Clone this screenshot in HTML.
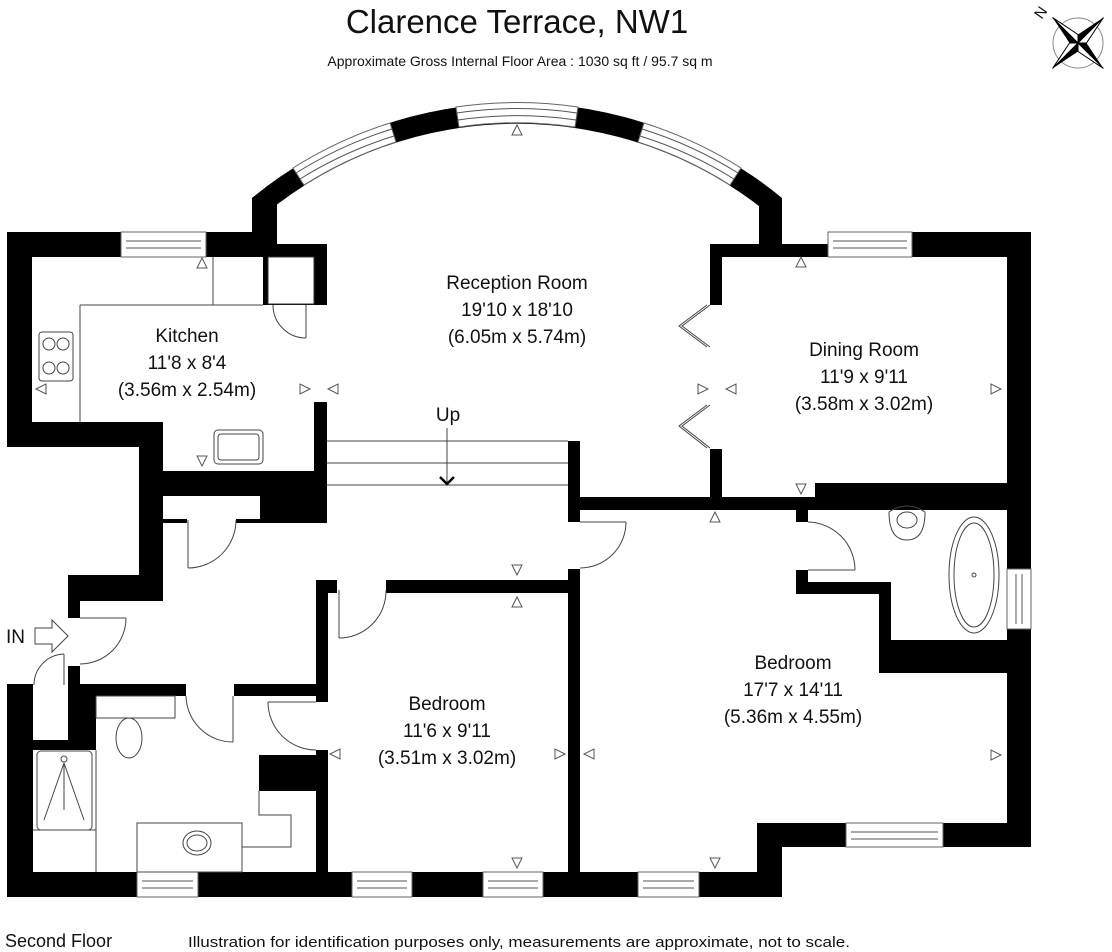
<!DOCTYPE html>
<html><head><meta charset="utf-8"><style>
html,body{margin:0;padding:0;background:#fff;}
svg{display:block;}
text{font-family:"Liberation Sans",sans-serif;fill:#111;}
</style></head><body>
<svg width="1112" height="952" viewBox="0 0 1112 952" xmlns="http://www.w3.org/2000/svg">
<defs>
<g id="wh"></g>
</defs>
<!-- title -->
<text x="517" y="33" font-size="33" text-anchor="middle">Clarence Terrace, NW1</text>
<text x="520" y="66" font-size="14" text-anchor="middle">Approximate Gross Internal Floor Area : 1030 sq ft / 95.7 sq m</text>

<!-- compass -->
<g transform="translate(1078,43)">
<circle r="25" fill="none" stroke="#888" stroke-width="1"/>
<g transform="rotate(45)">
<polygon points="0,-36 6,-6 36,0 6,6 0,36 -6,6 -36,0 -6,-6" fill="#000"/>
<polygon points="0,-36 6,-6 0,0" fill="#fff" stroke="#000" stroke-width="1"/>
<polygon points="36,0 6,6 0,0" fill="#fff" stroke="#000" stroke-width="1"/>
<polygon points="0,36 -6,6 0,0" fill="#fff" stroke="#000" stroke-width="1"/>
<polygon points="-36,0 -6,-6 0,0" fill="#fff" stroke="#000" stroke-width="1"/>
</g>
</g>
<text x="1040" y="18" font-size="15" transform="rotate(-55 1040 12)" text-anchor="middle">N</text>

<!-- arc wall -->
<path d="M 252,198 A 417 417 0 0 1 782,198 L 769,214 A 397 397 0 0 0 265,214 Z" fill="#000"/>
<g fill="none" stroke="#777" stroke-width="1">
</g>
<!-- arc windows: white sectors -->
<g fill="#fff" stroke="#666" stroke-width="1">
<path d="M 293,168 A 417 417 0 0 1 390,123 L 396,142 A 397 397 0 0 0 304,185 Z"/>
<path d="M 456,107 A 417 417 0 0 1 578,107 L 575,127 A 397 397 0 0 0 459,127 Z"/>
<path d="M 644,123 A 417 417 0 0 1 741,168 L 730,185 A 397 397 0 0 0 638,142 Z"/>
</g>
<g fill="none" stroke="#555" stroke-width="1">
<path d="M 296,173 A 410 410 0 0 1 392,129"/>
<path d="M 300,179 A 404 404 0 0 1 394,136"/>
<path d="M 457,113 A 410 410 0 0 1 577,113"/>
<path d="M 458,120 A 404 404 0 0 1 576,120"/>
<path d="M 642,129 A 410 410 0 0 1 738,173"/>
<path d="M 640,136 A 404 404 0 0 1 734,179"/>
</g>

<!-- walls -->
<g fill="#000">
<!-- kitchen -->
<rect x="7" y="232" width="245" height="25"/>
<rect x="252" y="198" width="25" height="59"/>
<rect x="7" y="232" width="25" height="215"/>
<rect x="7" y="422" width="156" height="25"/>
<rect x="139" y="422" width="24" height="179"/>
<rect x="263" y="244" width="64" height="61"/>
<rect x="314" y="402" width="13" height="121"/>
<rect x="163" y="471" width="164" height="25"/>
<rect x="260" y="496" width="67" height="27"/>
<rect x="163" y="519" width="24" height="4"/>
<rect x="236" y="519" width="30" height="4"/>
<!-- entrance area -->
<rect x="68" y="575" width="95" height="26"/>
<rect x="68" y="575" width="12" height="43"/>
<rect x="68" y="666" width="12" height="22"/>
<!-- bottom left bath -->
<rect x="7" y="684" width="26" height="213"/>
<rect x="7" y="684" width="26" height="12"/>
<rect x="68" y="684" width="118" height="12"/>
<rect x="234" y="684" width="93" height="12"/>
<rect x="68" y="684" width="28" height="66"/>
<rect x="33" y="740" width="63" height="10"/>
<rect x="7" y="872" width="775" height="25"/>
<rect x="259" y="755" width="69" height="36"/>
<!-- bedroom 1 -->
<rect x="316" y="580" width="21" height="13"/>
<rect x="316" y="580" width="12" height="122"/>
<rect x="316" y="750" width="12" height="122"/>
<rect x="386" y="580" width="182" height="13"/>
<rect x="568" y="569" width="12" height="328"/>
<!-- stair post / hall -->
<rect x="568" y="441" width="12" height="81"/>
<rect x="580" y="497" width="451" height="13"/>
<!-- reception right / dining -->
<rect x="759" y="198" width="23" height="59"/>
<rect x="710" y="244" width="118" height="13"/>
<rect x="912" y="232" width="119" height="25"/>
<rect x="710" y="244" width="12" height="61"/>
<rect x="710" y="449" width="12" height="61"/>
<rect x="815" y="483" width="216" height="27"/>
<rect x="1007" y="232" width="24" height="615"/>
<!-- bathroom 2 -->
<rect x="796" y="510" width="12" height="12"/>
<rect x="796" y="570" width="12" height="24"/>
<rect x="796" y="582" width="95" height="12"/>
<rect x="879" y="582" width="12" height="91"/>
<rect x="879" y="640" width="152" height="33"/>
<!-- bedroom 2 bottom -->
<rect x="757" y="823" width="274" height="24"/>
<rect x="757" y="823" width="25" height="74"/>
</g>
<!-- cupboard inner -->
<rect x="268" y="257" width="46" height="47" fill="#fff" stroke="#333" stroke-width="1"/>
<rect x="33" y="696" width="35" height="44" fill="#fff"/>

<!-- straight windows -->
<g fill="#fff" stroke="#666" stroke-width="1">
<rect x="121" y="232" width="85" height="25"/>
<rect x="828" y="232" width="84" height="25"/>
<rect x="137" y="872" width="61" height="25"/>
<rect x="352" y="872" width="60" height="25"/>
<rect x="483" y="872" width="60" height="25"/>
<rect x="638" y="872" width="61" height="25"/>
<rect x="846" y="823" width="97" height="24"/>
<rect x="1007" y="569" width="24" height="60"/>
</g>
<g stroke="#555" stroke-width="1" fill="none">
<path d="M126 241H201M126 248H201"/>
<path d="M833 241H907M833 248H907"/>
<path d="M142 881H193M142 888H193"/>
<path d="M357 881H407M357 888H407"/>
<path d="M488 881H538M488 888H538"/>
<path d="M643 881H694M643 888H694"/>
<path d="M851 832H938M851 839H938"/>
<path d="M1016 574V624M1022 574V624"/>
</g>

<!-- fixtures/lines -->
<g fill="none" stroke="#444" stroke-width="1">
<path d="M80 305V422M80 305H263M213 257V305"/>
<rect x="39" y="332" width="34" height="49" rx="3"/>
<circle cx="49" cy="344" r="6"/><circle cx="63" cy="344" r="6"/>
<circle cx="49" cy="368" r="6"/><circle cx="63" cy="368" r="6"/>
<rect x="214" y="430" width="49" height="34" rx="4"/>
<rect x="218" y="434" width="41" height="26" rx="3"/>
<path d="M327 441H568M327 463H568M327 485H568"/>
<!-- doors -->
<path d="M306 305V338M273 305A33 33 0 0 0 306 338"/>
<path d="M188 520V568M188 568A48 48 0 0 0 236 520"/>
<path d="M580 522H626M626 522A46 46 0 0 1 580 568"/>
<path d="M80 618H126M126 618A46 46 0 0 1 80 664"/>
<path d="M64 654V685M64 654A31 31 0 0 0 34 685"/>
<path d="M233 696V742M186 696A47 47 0 0 0 233 742"/>
<path d="M268 702H316M268 702A48 48 0 0 0 316 750"/>
<path d="M339 590V638M386 590A47 47 0 0 1 339 638"/>
<path d="M808 570H855M808 522A48 48 0 0 1 855 570"/>
<path d="M710 305L682 326L710 347M707 305L679 326L707 347"/>
<path d="M710 405L682 426L710 448M707 405L679 426L707 448"/>
<!-- bath left -->
<rect x="37" y="751" width="55" height="79" rx="4"/>
<path d="M64 763L44 820M64 763L84 820M64 763V810"/>
<circle cx="64" cy="759" r="3"/>
<path d="M96 750V872M33 830H96"/>
<rect x="96" y="696" width="79" height="22"/>
<ellipse cx="129" cy="738" rx="13" ry="20"/>
<path d="M259 791V815H291V847H242"/>
<rect x="137" y="823" width="105" height="49"/>
<ellipse cx="197" cy="843" rx="14" ry="12"/>
<ellipse cx="197" cy="843" rx="10" ry="8"/>
<!-- bath right -->
<ellipse cx="974" cy="575" rx="25" ry="58"/>
<ellipse cx="974" cy="575" rx="20" ry="52"/>
<circle cx="974" cy="575" r="2"/>
<path d="M889 512Q907 500 925 512Q925 540 907 540Q889 540 889 512Z"/>
<ellipse cx="907" cy="520" rx="10" ry="8"/>
<!-- Up arrow -->
<path d="M447 428V484"/>
</g>
<path d="M440 477L447 484L454 477" fill="none" stroke="#000" stroke-width="2.5"/>

<!-- markers -->
<g fill="#fff" stroke="#555" stroke-width="1">
<polygon points="197,268 207,268 202,258"/>
<polygon points="36,389 46,384 46,394"/>
<polygon points="197,456 207,456 202,466"/>
<polygon points="300,384 300,394 310,389"/>
<polygon points="338,384 338,394 328,389"/>
<polygon points="512,135 522,135 517,125"/>
<polygon points="698,384 698,394 708,389"/>
<polygon points="736,384 736,394 726,389"/>
<polygon points="796,267 806,267 801,257"/>
<polygon points="991,384 991,394 1001,389"/>
<polygon points="796,484 806,484 801,494"/>
<polygon points="710,522 720,522 715,512"/>
<polygon points="512,565 522,565 517,575"/>
<polygon points="512,607 522,607 517,597"/>
<polygon points="340,749 340,759 330,754"/>
<polygon points="555,749 555,759 565,754"/>
<polygon points="594,749 594,759 584,754"/>
<polygon points="512,858 522,858 517,868"/>
<polygon points="991,750 991,760 1001,755"/>
<polygon points="710,858 720,858 715,868"/>
</g>

<!-- IN arrow -->
<text x="6" y="643" font-size="19">IN</text>
<polygon points="35,628 52,628 52,620 68,636 52,652 52,644 35,644" fill="#fff" stroke="#444" stroke-width="1"/>

<!-- labels -->
<g font-size="19" text-anchor="middle">
<text x="187" y="342">Kitchen</text>
<text x="187" y="369">11'8 x 8'4</text>
<text x="187" y="396">(3.56m x 2.54m)</text>
<text x="517" y="289">Reception Room</text>
<text x="517" y="316">19'10 x 18'10</text>
<text x="517" y="343">(6.05m x 5.74m)</text>
<text x="864" y="356">Dining Room</text>
<text x="864" y="383">11'9 x 9'11</text>
<text x="864" y="410">(3.58m x 3.02m)</text>
<text x="447" y="710">Bedroom</text>
<text x="447" y="737">11'6 x 9'11</text>
<text x="447" y="764">(3.51m x 3.02m)</text>
<text x="793" y="669">Bedroom</text>
<text x="793" y="696">17'7 x 14'11</text>
<text x="793" y="723">(5.36m x 4.55m)</text>
<text x="448" y="421">Up</text>
</g>
<text x="5" y="947" font-size="18">Second Floor</text>
<text x="188" y="947" font-size="14.5" textLength="662" lengthAdjust="spacingAndGlyphs">Illustration for identification purposes only, measurements are approximate, not to scale.</text>
</svg>
</body></html>
